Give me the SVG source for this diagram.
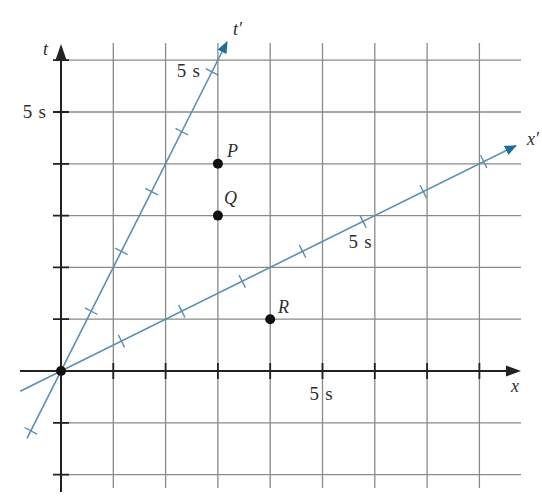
<svg xmlns="http://www.w3.org/2000/svg" width="542" height="498" viewBox="0 0 542 498">
<style>
.grid{stroke:#8a8a8a;stroke-width:1.3;fill:none}
.axis{stroke:#222;stroke-width:2;fill:none}
.tick{stroke:#222;stroke-width:1.8}
.prime{stroke:#5a8fb0;stroke-width:1.6;fill:none}
.ptick{stroke:#5a8fb0;stroke-width:1.4}
.lbl{font-family:"Liberation Serif","DejaVu Serif",serif;font-size:17px;fill:#2e2e2e}
.num{font-size:19px;word-spacing:1.5px}
.it{font-style:italic;font-size:18px}
.dot{fill:#111}
</style>
<defs>
<marker id="bh" viewBox="0 0 12 10" refX="11" refY="5" markerWidth="12" markerHeight="10" markerUnits="userSpaceOnUse" orient="auto">
<path d="M0,0 L12,5 L0,10 Z" fill="#1d6f98"/>
</marker>
</defs>
<g id="grid">
<path class="grid" d="M113.3,43V488M165.6,43V488M217.9,43V488M270.2,43V488M322.5,43V488M374.8,43V488M427.1,43V488M479.4,43V488"/>
<path class="grid" d="M61,60.2H521M61,112H521M61,163.8H521M61,215.6H521M61,267.4H521M61,319.2H521M61,422.8H521M61,474.6H521"/>
</g>
<g id="axes">
<path class="axis" d="M20,371H508M61,492V58"/>
<path d="M521,371 L506,365.5 L506,376.5 Z" fill="#222"/>
<path d="M61,44 L55.5,60 L66.5,60 Z" fill="#222"/>
<path class="tick" d="M113.3,363V379M165.6,363V379M217.9,363V379M270.2,363V379M322.5,363V379M374.8,363V379M427.1,363V379M479.4,363V379"/>
<path class="tick" d="M53,60.2H69M53,112H69M53,163.8H69M53,215.6H69M53,267.4H69M53,319.2H69M53,422.8H69M53,474.6H69"/>
</g>
<g id="connectors">
<line id="tprime-axis" class="prime" x1="27" y1="438.3" x2="227" y2="42" marker-end="url(#bh)"/>
<line id="xprime-axis" class="prime" x1="20.2" y1="391.2" x2="516" y2="145.6" marker-end="url(#bh)"/>
<g id="tprime-ticks" class="ptick">
<line x1="24.5" y1="427.5" x2="37.1" y2="434.1"/>
<line x1="84.9" y1="307.9" x2="97.5" y2="314.5"/>
<line x1="115.1" y1="248.1" x2="127.7" y2="254.7"/>
<line x1="145.3" y1="188.3" x2="157.9" y2="194.9"/>
<line x1="175.5" y1="128.4" x2="188.1" y2="135"/>
<line x1="205.7" y1="68.6" x2="218.3" y2="75.2"/>
</g>
<g id="xprime-ticks" class="ptick">
<line x1="118.2" y1="334.8" x2="124.6" y2="347.4"/>
<line x1="178.6" y1="304.9" x2="185" y2="317.5"/>
<line x1="239" y1="275" x2="245.4" y2="287.6"/>
<line x1="299.4" y1="245.1" x2="305.8" y2="257.7"/>
<line x1="359.8" y1="215.1" x2="366.2" y2="227.7"/>
<line x1="420.1" y1="185.3" x2="426.5" y2="197.9"/>
<line x1="480.5" y1="155.3" x2="486.9" y2="167.9"/>
</g>
</g>
<g id="origin"><circle class="dot" cx="61" cy="371" r="5"/></g>
<g id="P"><circle class="dot" cx="217.9" cy="163.8" r="5"/><text class="lbl it" x="227" y="157">P</text></g>
<g id="Q"><circle class="dot" cx="217.9" cy="215.6" r="5"/><text class="lbl it" x="224" y="204">Q</text></g>
<g id="R"><circle class="dot" cx="270.2" cy="319.2" r="5"/><text class="lbl it" x="278" y="313">R</text></g>
<g id="labels">
<text class="lbl it" x="43" y="55">t</text>
<text class="lbl it" x="233" y="35">t′</text>
<text class="lbl it" x="511" y="392">x</text>
<text class="lbl it" x="527" y="145">x′</text>
<text class="lbl num" x="46" y="118" text-anchor="end">5 s</text>
<text class="lbl num" x="200" y="77" text-anchor="end">5 s</text>
<text class="lbl num" x="321" y="400" text-anchor="middle">5 s</text>
<text class="lbl num" x="360" y="248" text-anchor="middle">5 s</text>
</g>
</svg>
